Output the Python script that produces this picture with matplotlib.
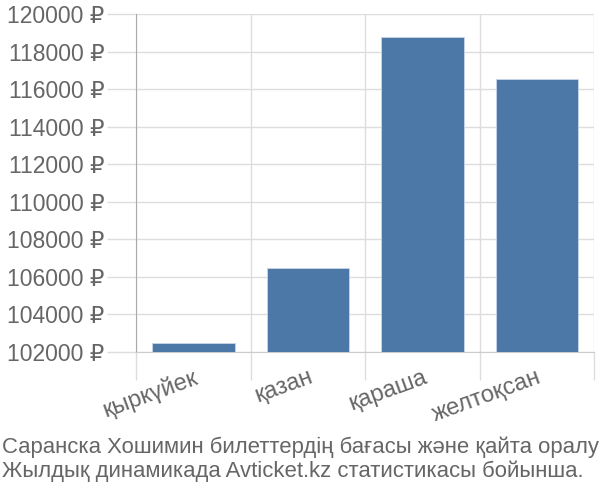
import matplotlib
matplotlib.use("Agg")
import matplotlib.pyplot as plt
import numpy as np

plt.rcParams['font.family'] = ['Liberation Sans', 'DejaVu Sans']

months = ['қыркүйек', 'қазан', 'қараша', 'желтоқсан']
prices = [102480, 106500, 118800, 116550]
yticks = list(range(102000, 120001, 2000))
title = ("Саранска Хошимин билеттердің бағасы және қайта оралу\n"
         "Жылдық динамикада Avticket.kz статистикасы бойынша.")

grey = '#666666'
grid = '#dddddd'

fig = plt.figure(figsize=(6, 5), dpi=100)
ax = fig.add_axes([0.227, 0.296, 0.763, 0.676])

x = np.arange(len(months))
ax.bar(x, prices, width=0.72, color='#4c78a8', edgecolor='#c8d6e8',
       linewidth=0.6, zorder=3)

ax.set_xlim(-0.5, len(months) - 0.5)
ax.set_ylim(102000, 120000)

ax.set_yticks(yticks)
ax.set_yticklabels([f'{v} ₽' for v in yticks], fontsize=16.5, color=grey)
ax.tick_params(axis='y', length=21, color=grid, width=1, pad=2)

# vertical grid at category boundaries
bounds = np.arange(len(months) + 1) - 0.5
ax.set_xticks(bounds, minor=True)
ax.set_xticks(x)
ax.set_xticklabels(months, fontsize=17, color=grey, rotation=20,
                   ha='right', rotation_mode='anchor')
ax.tick_params(axis='x', which='major', length=0, pad=10)
ax.tick_params(axis='x', which='minor', length=20, color=grid, width=1)
ax.grid(axis='x', which='minor', color=grid, linewidth=1, zorder=0)
ax.grid(axis='y', which='major', color=grid, linewidth=1, zorder=0)

for s in ['top', 'right']:
    ax.spines[s].set_visible(False)
ax.spines['left'].set_color('#aaaaaa')
ax.spines['bottom'].set_color('#cccccc')

fig.text(0.003, 0.128, title, fontsize=15.9, color=grey, ha='left', va='top',
         linespacing=1.18)

fig.savefig('out.png', dpi=100)
